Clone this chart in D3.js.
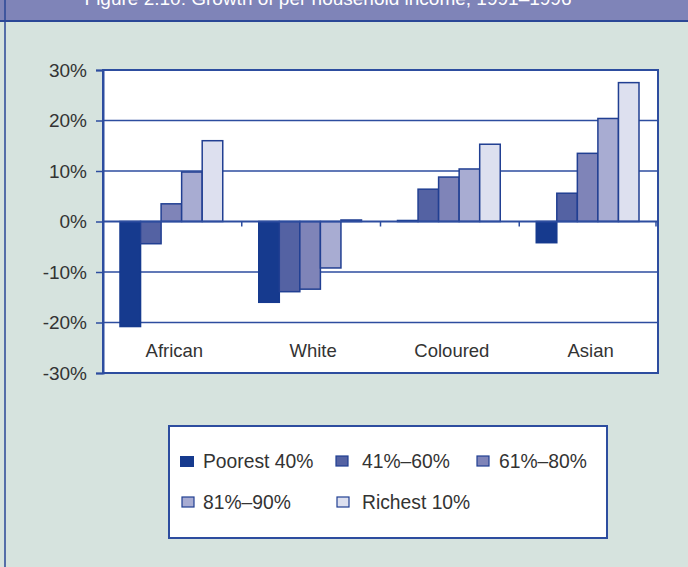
<!DOCTYPE html>
<html>
<head>
<meta charset="utf-8">
<script src="https://cdn.jsdelivr.net/npm/d3@7"></script>
<style>
  html, body { margin: 0; padding: 0; background: #d6e3de; }
  svg { display: block; font-family: "Liberation Sans", Arial, sans-serif; }
</style>
</head>
<body>
<svg id="chart" width="688" height="567"></svg>
<script>
// Population groups and income brackets
const groups = ["African", "White", "Coloured", "Asian"];
const brackets = ["Poorest 40%", "41%–60%", "61%–80%", "81%–90%", "Richest 10%"];

// Growth (%) per bracket, one array per bracket, in group order
const poorest40 = [-20.8, -16.0, 0.2, -4.2];
const pct41to60 = [-4.4, -13.9, 6.4, 5.6];
const pct61to80 = [3.5, -13.4, 8.8, 13.5];
const pct81to90 = [9.8, -9.2, 10.4, 20.4];
const richest10 = [16.0, 0.3, 15.3, 27.5];

const yTicks = [-30, -20, -10, 0, 10, 20, 30];
const titleText = "Figure 2.10: Growth of per household income, 1991–1996";

const seriesValues = [poorest40, pct41to60, pct61to80, pct81to90, richest10];
const fills = ["#163a8e", "#5462a3", "#7f84b8", "#a8acd2", "#dde0ef"];
const edge = "#213f92";

const svg = d3.select("#chart");

// Page frame and title banner (the banner runs off the top of the page)
svg.append("rect").attr("x", 0).attr("y", 0).attr("width", 688).attr("height", 567).attr("fill", "#d6e3de");
svg.append("rect").attr("x", 0).attr("y", 0).attr("width", 688).attr("height", 21).attr("fill", "#7f84b8");
svg.append("line").attr("x1", 0).attr("x2", 688).attr("y1", 21).attr("y2", 21)
  .attr("stroke", "#2a4796").attr("stroke-width", 2);
svg.append("line").attr("x1", 5).attr("x2", 5).attr("y1", 0).attr("y2", 567)
  .attr("stroke", "#2a4796").attr("stroke-width", 1.5);
svg.append("text").attr("x", 328).attr("y", 4.5).attr("text-anchor", "middle")
  .attr("fill", "#ffffff").attr("font-size", 19).text(titleText);

// Plot area
const plotLeft = 103, plotRight = 658, plotTop = 70, plotBottom = 373;
svg.append("rect").attr("x", plotLeft).attr("y", plotTop)
  .attr("width", plotRight - plotLeft).attr("height", plotBottom - plotTop)
  .attr("fill", "#ffffff");

const y = d3.scaleLinear().domain([-30, 30]).range([plotBottom, plotTop]);
const x0 = d3.scaleBand().domain(groups).range([plotLeft, plotRight]).padding(0);
const inset = 17;
const x1 = d3.scaleBand().domain(brackets).range([inset, x0.bandwidth() - inset - 2]).padding(0);

// Horizontal gridlines
svg.append("g").selectAll("line").data(yTicks.filter(t => t !== 0)).join("line")
  .attr("x1", plotLeft).attr("x2", plotRight)
  .attr("y1", d => y(d)).attr("y2", d => y(d))
  .attr("stroke", "#2d4d9f").attr("stroke-width", 1.5);

// Bars
const barData = [];
groups.forEach((g, gi) => {
  brackets.forEach((b, bi) => {
    barData.push({ group: g, bracket: b, bi, value: seriesValues[bi][gi] });
  });
});
svg.append("g").selectAll("rect").data(barData).join("rect")
  .attr("x", d => x0(d.group) + x1(d.bracket))
  .attr("width", x1.bandwidth())
  .attr("y", d => y(Math.max(0, d.value)))
  .attr("height", d => Math.abs(y(d.value) - y(0)))
  .attr("fill", d => fills[d.bi])
  .attr("stroke", d => d.bi === 0 ? fills[0] : edge)
  .attr("stroke-width", 1.5);

// Zero axis with category separators hanging below
const sepX = groups.map(g => x0(g)).concat([plotRight - 2]);
svg.append("g").selectAll("line").data(sepX).join("line")
  .attr("x1", d => d).attr("x2", d => d).attr("y1", y(0)).attr("y2", y(0) + 5)
  .attr("stroke", "#2d4d9f").attr("stroke-width", 1.5);
svg.append("line").attr("x1", plotLeft).attr("x2", plotRight).attr("y1", y(0)).attr("y2", y(0))
  .attr("stroke", "#2d4d9f").attr("stroke-width", 2);

// Plot border
svg.append("rect").attr("x", plotLeft).attr("y", plotTop)
  .attr("width", plotRight - plotLeft).attr("height", plotBottom - plotTop)
  .attr("fill", "none").attr("stroke", "#2d4d9f").attr("stroke-width", 2);

// Y axis
const yAxis = d3.axisLeft(y).tickValues(yTicks).tickSize(7).tickPadding(9).tickFormat(d => d + "%");
const yg = svg.append("g").attr("transform", `translate(${plotLeft},0)`).call(yAxis);
yg.select(".domain").attr("stroke", "#2d4d9f").attr("stroke-width", 2);
yg.selectAll(".tick line").attr("stroke", "#2d4d9f").attr("stroke-width", 1.5);
yg.selectAll(".tick text").attr("fill", "#333333").attr("font-size", 19)
  .attr("font-family", "Liberation Sans, Arial, sans-serif");

// Category labels
svg.append("g").selectAll("text").data(groups).join("text")
  .attr("x", d => x0(d) + x0.bandwidth() / 2 + 2)
  .attr("y", 357)
  .attr("text-anchor", "middle")
  .attr("fill", "#333333").attr("font-size", 18.5)
  .text(d => d);

// Legend
svg.append("rect").attr("x", 169).attr("y", 426).attr("width", 438).attr("height", 112)
  .attr("fill", "#ffffff").attr("stroke", "#2d4d9f").attr("stroke-width", 2);
const legendPos = [
  { sx: 180, tx: 203, ty: 468 },
  { sx: 336, tx: 362, ty: 468 },
  { sx: 477, tx: 499, ty: 468 },
  { sx: 182, tx: 203, ty: 509 },
  { sx: 337, tx: 362, ty: 509 }
];
const lg = svg.append("g").selectAll("g").data(brackets).join("g");
lg.append("rect")
  .attr("x", (d, i) => legendPos[i].sx)
  .attr("y", (d, i) => legendPos[i].ty - 12)
  .attr("width", (d, i) => i === 0 ? 14 : 12)
  .attr("height", (d, i) => i === 0 ? 11 : 10)
  .attr("fill", (d, i) => fills[i])
  .attr("stroke", (d, i) => i === 0 ? "none" : edge)
  .attr("stroke-width", 1.2);
lg.append("text")
  .attr("x", (d, i) => legendPos[i].tx)
  .attr("y", (d, i) => legendPos[i].ty)
  .attr("fill", "#333333").attr("font-size", 19.3)
  .text(d => d);
</script>
</body>
</html>
